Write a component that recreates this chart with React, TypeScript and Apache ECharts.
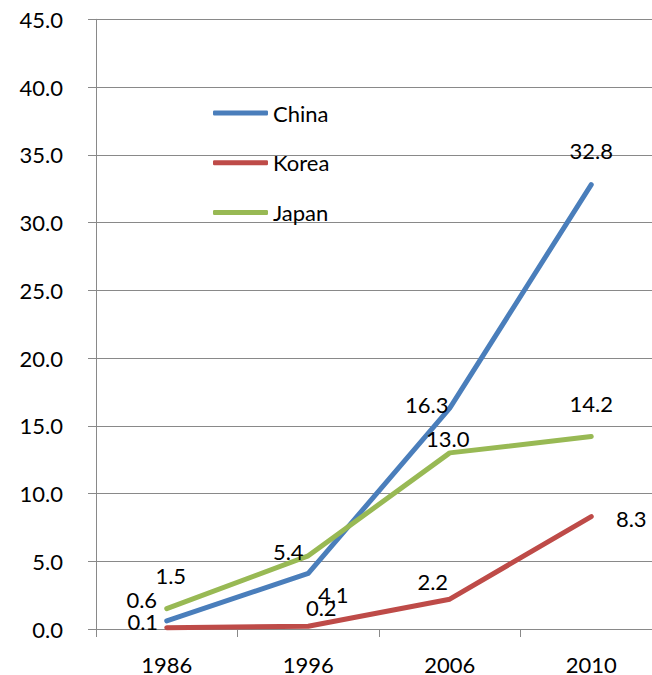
import React, { useEffect, useRef } from "react";
import * as echarts from "echarts";

// Years on the category axis
const years = ["1986", "1996", "2006", "2010"];

// Series values
const china = [0.6, 4.1, 16.3, 32.8];
const korea = [0.1, 0.2, 2.2, 8.3];
const japan = [1.5, 5.4, 13.0, 14.2];

// Value-axis range
const yMin = 0;
const yMax = 45;
const yStep = 5;

// Where each value label sits relative to its point, in pixels [dx, dy]
const chinaLabelShift = [[-25, -21], [25, 21], [-23, -4], [0, -34]];
const koreaLabelShift = [[-24, -6], [13, -19], [-17, -18], [40, 2]];
const japanLabelShift = [[4, -33], [-20, -4], [-2, -14], [0, -33]];

const FONT = "Lato, 'Open Sans', 'Noto Sans', sans-serif";
const FONT_SIZE = 22;

function makeSeries(name: string, values: number[], shifts: number[][], color: string) {
  return {
    name,
    type: "line",
    symbol: "circle",
    symbolSize: 1,
    itemStyle: { color },
    lineStyle: { color, width: 5, cap: "round", join: "round" },
    label: {
      show: true,
      position: "inside",
      color: "#000",
      fontFamily: FONT,
      fontSize: FONT_SIZE,
      formatter: (p: any) => Number(p.value).toFixed(1),
    },
    data: values.map((v, i) => ({
      value: v,
      label: { offset: shifts[i] },
    })),
  };
}

export default function App() {
  const ref = useRef<HTMLDivElement>(null);

  useEffect(() => {
    if (!ref.current) return;
    const chart = echarts.init(ref.current, undefined, { renderer: "svg" });
    chart.setOption({
      animation: false,
      backgroundColor: "#fff",
      // the plot runs a little past the right edge of the frame
      grid: { left: 96, right: 0, top: 19.3, bottom: 45.7, containLabel: false },
      legend: {
        orient: "vertical",
        left: 213,
        top: 102,
        padding: 0,
        icon: "roundRect",
        itemWidth: 55,
        itemHeight: 5,
        itemGap: 27.7,
        textStyle: { color: "#000", fontFamily: FONT, fontSize: FONT_SIZE },
        data: ["China", "Korea", "Japan"],
      },
      xAxis: {
        type: "category",
        data: years,
        boundaryGap: true,
        axisLine: { show: true, lineStyle: { color: "#898989", width: 1 } },
        axisTick: { show: true, length: 8, lineStyle: { color: "#898989", width: 1 } },
        axisLabel: {
          color: "#000",
          fontFamily: FONT,
          fontSize: FONT_SIZE,
          margin: 24,
        },
        splitLine: { show: false },
      },
      yAxis: {
        type: "value",
        min: yMin,
        max: yMax,
        interval: yStep,
        axisLine: { show: true, lineStyle: { color: "#898989", width: 1 } },
        axisTick: { show: true, length: 8, lineStyle: { color: "#898989", width: 1 } },
        axisLabel: {
          color: "#000",
          fontFamily: FONT,
          fontSize: FONT_SIZE,
          margin: 33,
          formatter: (v: number) => v.toFixed(1),
        },
        splitLine: { show: true, lineStyle: { color: "#898989", width: 1 } },
      },
      series: [
        makeSeries("China", china, chinaLabelShift, "#4A7EBB"),
        makeSeries("Korea", korea, koreaLabelShift, "#BE4B48"),
        makeSeries("Japan", japan, japanLabelShift, "#98B954"),
      ],
    });
    return () => chart.dispose();
  }, []);

  return (
    <div
      style={{
        position: "fixed",
        left: 0,
        top: 0,
        width: 652,
        height: 675,
        overflow: "hidden",
        background: "#fff",
      }}
    >
      <div ref={ref} style={{ width: 662, height: 675 }} />
    </div>
  );
}
